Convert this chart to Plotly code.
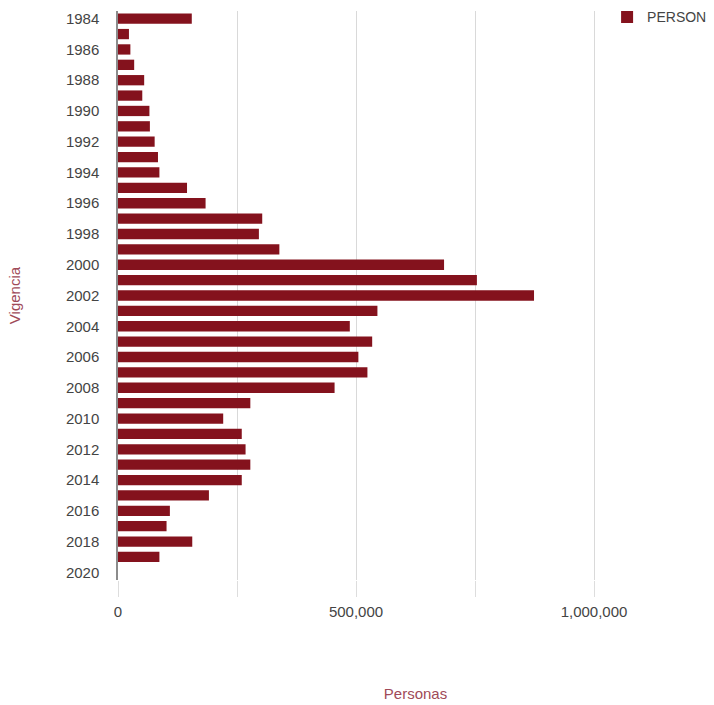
import plotly.graph_objects as go

years = list(range(1984, 2021))
personas = [155000, 23000, 26000, 34000, 55000, 51000, 66000, 67000, 77000, 84000,
            87000, 145000, 184000, 303000, 296000, 339000, 685000, 754000, 874000, 545000,
            487000, 534000, 505000, 524000, 455000, 278000, 221000, 260000, 268000, 278000,
            260000, 191000, 109000, 102000, 156000, 87000, 0]
x_tickvals = [0, 250000, 500000, 750000, 1000000]
x_ticktext = ["0", "", "500,000", "", "1,000,000"]
y_tickvals = list(range(1984, 2021, 2))

fig = go.Figure()
fig.add_trace(go.Bar(
    x=personas, y=years, orientation="h", name="PERSON",
    marker=dict(color="#84121d", line=dict(width=0)),
))

fig.update_layout(
    width=714, height=705,
    margin=dict(l=118, r=1, t=11, b=125),
    paper_bgcolor="white", plot_bgcolor="white",
    font=dict(family="Liberation Sans, Arial, sans-serif", size=15, color="#444444"),
    bargap=0.33,
    showlegend=True,
    legend=dict(x=0.822, y=1.017, xanchor="left", yanchor="top",
                font=dict(size=14, color="#444444"), bgcolor="rgba(0,0,0,0)"),
    xaxis=dict(
        range=[0, 1250000], tickvals=x_tickvals, ticktext=x_ticktext,
        showgrid=True, gridcolor="#d9d9d9", gridwidth=1,
        zeroline=False, showline=False,
        ticks="outside", ticklen=16, tickcolor="#dddddd",
        ticklabelstandoff=2,
        title=dict(text="Personas", font=dict(color="#a04a58", size=15), standoff=69),
        automargin=False,
    ),
    yaxis=dict(
        range=[2020.5, 1983.5], tickvals=y_tickvals,
        showgrid=False, zeroline=False,
        showline=True, linecolor="#8c8c8c", linewidth=1.5,
        ticks="", ticklabelstandoff=14,
        title=dict(text="Vigencia", font=dict(color="#a04a58", size=15), standoff=42),
        automargin=False,
    ),
)

fig.write_html("out.html", config={"displayModeBar": False},
               post_script="document.body.style.margin='0';")
